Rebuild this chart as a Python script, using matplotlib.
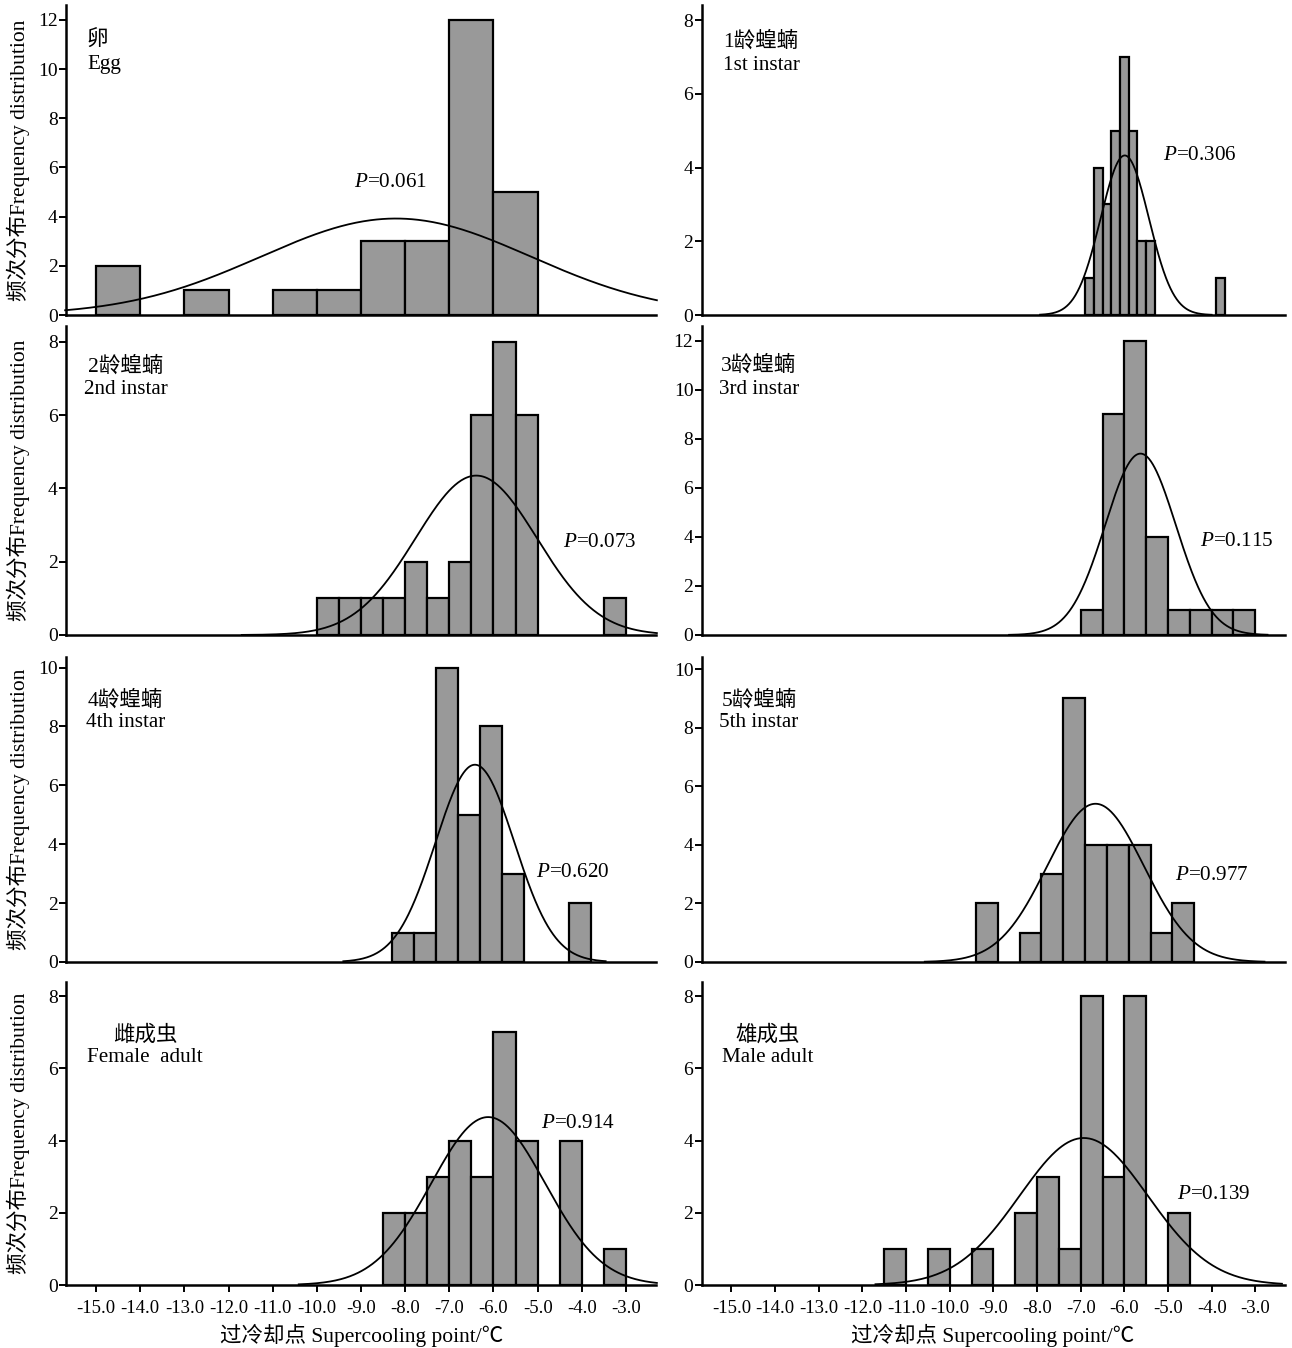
import numpy as np
import matplotlib
matplotlib.use("Agg")
import matplotlib.pyplot as plt

plt.rcParams['font.family'] = ['Liberation Serif', 'Noto Sans CJK SC', 'DejaVu Sans']
plt.rcParams['mathtext.fontset'] = 'custom'
plt.rcParams['mathtext.it'] = 'Liberation Serif:italic'
plt.rcParams['mathtext.rm'] = 'Liberation Serif'

# ---------------- data ----------------
stage_cn = ["卵", "1龄蝗蝻", "2龄蝗蝻", "3龄蝗蝻", "4龄蝗蝻", "5龄蝗蝻", "雌成虫", "雄成虫"]
stage_en = ["Egg", "1st instar", "2nd instar", "3rd instar", "4th instar", "5th instar",
            "Female  adult", "Male adult"]
p_values = ["0.061", "0.306", "0.073", "0.115", "0.620", "0.977", "0.914", "0.139"]

bin_start = [-15.0, -6.9, -10.0, -7.0, -8.3, -9.4, -8.5, -11.5]
bin_width = [1.0, 0.2, 0.5, 0.5, 0.5, 0.5, 0.5, 0.5]

counts_egg = [2, 0, 1, 0, 1, 1, 3, 3, 12, 5]
counts_1st = [1, 4, 3, 5, 7, 5, 2, 2, 0, 0, 0, 0, 0, 0, 0, 1]
counts_2nd = [1, 1, 1, 1, 2, 1, 2, 6, 8, 6, 0, 0, 0, 1]
counts_3rd = [1, 9, 12, 4, 1, 1, 1, 1]
counts_4th = [1, 1, 10, 5, 8, 3, 0, 0, 2]
counts_5th = [2, 0, 1, 3, 9, 4, 4, 4, 1, 2]
counts_female = [2, 2, 3, 4, 3, 7, 4, 0, 4, 0, 1]
counts_male = [1, 0, 1, 0, 1, 0, 2, 3, 1, 8, 3, 8, 0, 2]
all_counts = [counts_egg, counts_1st, counts_2nd, counts_3rd,
              counts_4th, counts_5th, counts_female, counts_male]

# fitted normal curves
sample_n = [30, 30, 30, 30, 30, 30, 30, 30]
fit_mean = [-8.21, -5.99, -6.39, -5.63, -6.42, -6.66, -6.12, -6.93]
fit_sd = [3.05, 0.553, 1.376, 0.809, 0.893, 1.108, 1.287, 1.47]
curve_from = [-15.7, -7.93, -11.7, -8.64, -9.40, -10.57, -10.41, -11.70]
curve_to = [-2.3, -4.00, -2.3, -2.72, -3.46, -2.79, -2.3, -2.39]

y_max = [12.61, 8.41, 8.43, 12.6, 10.36, 10.41, 8.39, 8.39]
y_ticks_top = [12, 8, 8, 12, 10, 10, 8, 8]

x_ticks = [-15.0, -14.0, -13.0, -12.0, -11.0, -10.0, -9.0, -8.0, -7.0, -6.0, -5.0, -4.0, -3.0]
x_tick_labels = ["%.1f" % v for v in x_ticks]

# ---------------- layout (pixels) ----------------
W, H = 1292, 1348
fig = plt.figure(figsize=(W / 100, H / 100), dpi=100)

col_left = [66, 701.7]
col_right = [656, 1285]
row_top = [5, 326, 657, 982]
row_bottom = [315, 635, 962, 1285]

# P-text positions (pixels, left/center y)
p_pos = [(354, 182.7), (1163, 155), (562.6, 542.7), (1200, 541.7),
         (536, 872.7), (1174.6, 875), (540.7, 1123.3), (1176.7, 1194.3)]
# label line centers (x, y1, y2); egg left-aligned
lab_pos = [(87, 40, 65), (761, 41.7, 65), (125.7, 366.7, 390), (759, 365.7, 390),
           (125.5, 700, 723), (759, 700, 723), (145, 1035, 1057), (768, 1035, 1057)]

BAR_COLOR = "#999999"

for i in range(8):
    r, c = divmod(i, 2)
    l = col_left[c] / W
    w = (col_right[c] - col_left[c]) / W
    b = 1 - row_bottom[r] / H
    h = (row_bottom[r] - row_top[r]) / H
    ax = fig.add_axes([l, b, w, h])

    cnts = np.array(all_counts[i], dtype=float)
    lefts = bin_start[i] + bin_width[i] * np.arange(len(cnts))
    mask = cnts > 0
    ax.bar(lefts[mask], cnts[mask], width=bin_width[i], align='edge',
           color=BAR_COLOR, edgecolor='black', linewidth=1.6, zorder=2)

    xs = np.linspace(curve_from[i], curve_to[i], 400)
    ys = sample_n[i] * bin_width[i] / (fit_sd[i] * np.sqrt(2 * np.pi)) * \
        np.exp(-0.5 * ((xs - fit_mean[i]) / fit_sd[i]) ** 2)
    ax.plot(xs, ys, color='black', linewidth=1.3, zorder=3, clip_on=False)

    ax.set_xlim(-15.68, -2.32)
    ax.set_ylim(0, y_max[i])
    ax.set_yticks(np.arange(0, y_ticks_top[i] + 1, 2))
    ax.tick_params(axis='y', direction='out', length=5, width=1.4, labelsize=14, pad=1)
    for s in ['top', 'right']:
        ax.spines[s].set_visible(False)
    for s in ['left', 'bottom']:
        ax.spines[s].set_linewidth(1.8)
    if r == 3:
        ax.set_xticks(x_ticks)
        ax.set_xticklabels(x_tick_labels)
        ax.tick_params(axis='x', direction='out', length=5, width=1.4, labelsize=13.5, pad=6)
    else:
        ax.set_xticks([])

    # P value text
    px, py = p_pos[i]
    fig.text(px / W, 1 - py / H, r"$P$=" + p_values[i], fontsize=15.2,
             ha='left', va='center')
    # stage labels
    lx, ly1, ly2 = lab_pos[i]
    ha = 'left' if i == 0 else 'center'
    fig.text(lx / W, 1 - ly1 / H, stage_cn[i], fontsize=15.5, ha=ha, va='center')
    fig.text(lx / W, 1 - ly2 / H, stage_en[i], fontsize=15.2, ha=ha, va='center')

    if c == 0:
        fig.text(18 / W, 1 - (row_top[r] + row_bottom[r]) / 2 / H,
                 "频次分布Frequency distribution", fontsize=15.5,
                 rotation=90, ha='center', va='center')

for c, cx in enumerate([362, 993]):
    fig.text(cx / W, 1 - 1335 / H, "过冷却点 Supercooling point/℃", fontsize=15.5,
             ha='center', va='center')

fig.savefig("out.png", dpi=100, facecolor='white')
